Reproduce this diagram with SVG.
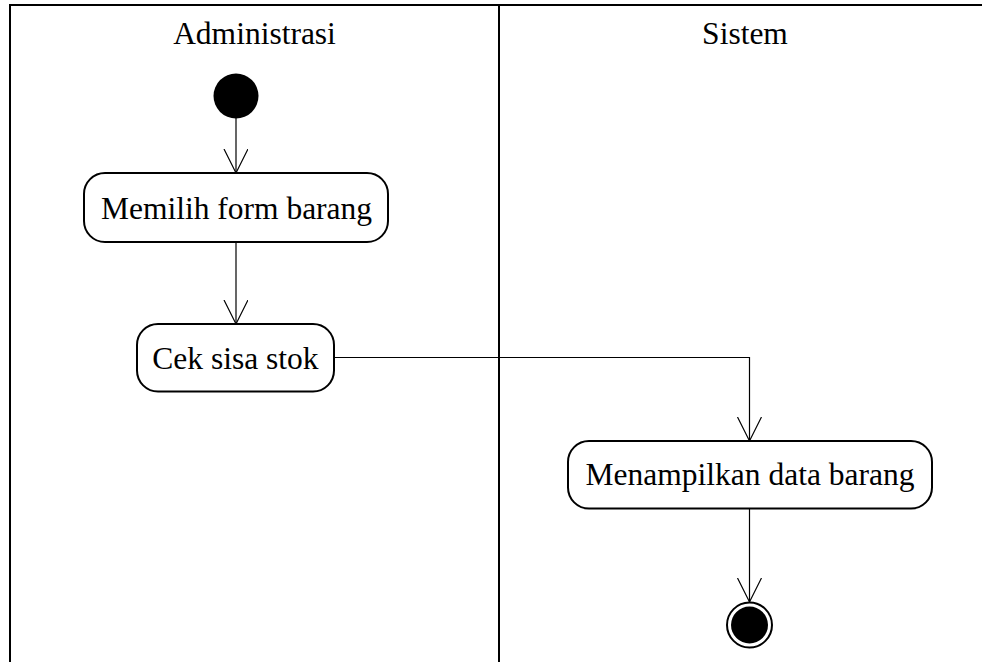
<svg xmlns="http://www.w3.org/2000/svg" width="982" height="662" viewBox="0 0 982 662">
<style>
.t{font-family:"Liberation Serif","Times New Roman",serif;font-size:31.5px;fill:#000;text-anchor:middle}
.box{fill:#fff;stroke:#000;stroke-width:2}
.lane{stroke:#000;stroke-width:2;fill:none}
.con{stroke:#000;stroke-width:1.2;fill:none}
</style>
<defs>
<marker id="open" markerUnits="userSpaceOnUse" markerWidth="30" markerHeight="30" refX="24" refY="12" orient="auto" viewBox="0 0 30 30">
<path d="M0,0 L24,12 L0,24" fill="none" stroke="#000" stroke-width="1.2"/>
</marker>
</defs>
<g id="lanes">
<line class="lane" x1="9" y1="5" x2="982" y2="5"/>
<line class="lane" x1="10" y1="4" x2="10" y2="662"/>
<line class="lane" x1="499" y1="4" x2="499" y2="662"/>
<text class="t" x="254.5" y="44">Administrasi</text>
<text class="t" x="745" y="44">Sistem</text>
</g>
<g id="connectors">
<line class="con" x1="236" y1="118" x2="236" y2="173" marker-end="url(#open)"/>
<line class="con" x1="236" y1="242" x2="236" y2="324" marker-end="url(#open)"/>
<polyline class="con" points="334,357.5 749.5,357.5 749.5,441" marker-end="url(#open)"/>
<line class="con" x1="749.5" y1="509" x2="749.5" y2="602" marker-end="url(#open)"/>
</g>
<g id="start">
<circle cx="236" cy="96" r="22.5" fill="#000"/>
</g>
<g id="memilih">
<rect class="box" x="84" y="173" width="304" height="69" rx="21"/>
<text class="t" x="236.5" y="218.5">Memilih form barang</text>
</g>
<g id="cek">
<rect class="box" x="137" y="324" width="197" height="67.5" rx="21"/>
<text class="t" x="235.5" y="368.5">Cek sisa stok</text>
</g>
<g id="menampilkan">
<rect class="box" x="568" y="441" width="364" height="67.5" rx="21"/>
<text class="t" x="750" y="485">Menampilkan data barang</text>
</g>
<g id="end">
<circle cx="749.5" cy="625" r="22.5" fill="#fff" stroke="#000" stroke-width="2"/>
<circle cx="749.5" cy="625" r="18.5" fill="#000"/>
</g>
</svg>
